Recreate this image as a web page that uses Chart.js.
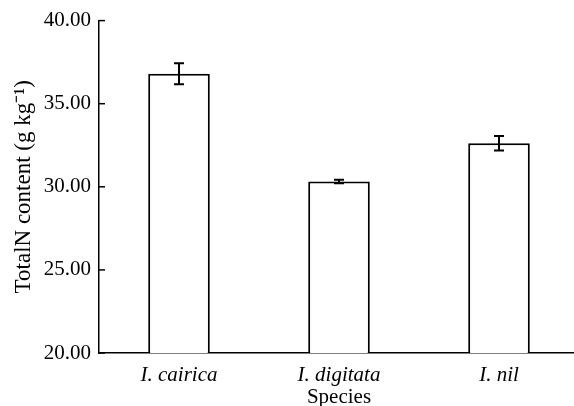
<!DOCTYPE html>
<html>
<head>
<meta charset="utf-8">
<script src="https://cdn.jsdelivr.net/npm/chart.js@4/dist/chart.umd.min.js"></script>
<style>
  html, body { margin: 0; padding: 0; background: #fff; overflow: hidden; }
  #wrap { width: 582px; height: 406px; }
</style>
</head>
<body>
<div id="wrap"><canvas id="c" width="582" height="406"></canvas></div>
<script>
// Total nitrogen content by species (mean ± error)
const species = ['I. cairica', 'I. digitata', 'I. nil'];
const totalN = [36.8, 30.32, 32.62];
const totalNErr = [0.63, 0.1, 0.44];
const yTicks = [20, 25, 30, 35, 40];

const SERIF = '"Liberation Serif", "Times New Roman", serif';

// Error bars and inward tick marks drawn from the chart's own scales
const errorBars = {
  id: 'errorBars',
  afterDatasetsDraw(chart) {
    const ctx = chart.ctx;
    const meta = chart.getDatasetMeta(0);
    const y = chart.scales.y;
    ctx.save();
    ctx.strokeStyle = '#000';
    ctx.lineWidth = 2;
    meta.data.forEach((bar, i) => {
      const x = bar.x;
      const top = y.getPixelForValue(totalN[i] + totalNErr[i]);
      const bot = y.getPixelForValue(totalN[i] - totalNErr[i]);
      ctx.beginPath();
      ctx.moveTo(x, top); ctx.lineTo(x, bot);
      ctx.moveTo(x - 5, top); ctx.lineTo(x + 5, top);
      ctx.moveTo(x - 5, bot); ctx.lineTo(x + 5, bot);
      ctx.stroke();
    });
    // inward ticks on the y axis
    const left = chart.chartArea.left;
    ctx.lineWidth = 1.5;
    yTicks.forEach(v => {
      const py = y.getPixelForValue(v);
      ctx.beginPath();
      ctx.moveTo(left, py); ctx.lineTo(left + 6, py);
      ctx.stroke();
    });
    ctx.restore();
  }
};

new Chart(document.getElementById('c'), {
  type: 'bar',
  data: {
    labels: species,
    datasets: [{
      data: totalN,
      backgroundColor: '#ffffff',
      borderColor: '#000000',
      borderWidth: 2,
      borderSkipped: 'bottom',
      barPercentage: 0.385,
      categoryPercentage: 1.0
    }]
  },
  options: {
    responsive: false,
    animation: false,
    devicePixelRatio: 1,
    layout: { padding: { top: 19, right: 3, left: 0, bottom: 0 } },
    plugins: { legend: { display: false }, tooltip: { enabled: false } },
    scales: {
      x: {
        grid: { display: false, drawTicks: false },
        border: { display: true, color: '#000', width: 1.5 },
        ticks: {
          color: '#000',
          padding: 10,
          font: { family: SERIF, size: 21, style: 'italic' }
        },
        title: {
          display: true,
          text: 'Species',
          color: '#000',
          padding: { top: 0, bottom: -4 },
          font: { family: SERIF, size: 21 }
        },
        afterFit(scale) { scale.height = 53; }
      },
      y: {
        min: 20,
        max: 40,
        afterBuildTicks(scale) { scale.ticks = yTicks.map(v => ({ value: v })); },
        grid: { display: false, drawTicks: false },
        border: { display: true, color: '#000', width: 1.5 },
        ticks: {
          color: '#000',
          padding: 8,
          font: { family: SERIF, size: 21 },
          callback: v => Number(v).toFixed(2)
        },
        title: {
          display: true,
          text: 'TotalN content (g kg\u207B\u00B9)',
          color: '#000',
          padding: { top: 10, bottom: 4 },
          font: { family: SERIF, size: 23 }
        },
        afterFit(scale) { scale.width = 99; }
      }
    }
  },
  plugins: [errorBars]
});
</script>
</body>
</html>
